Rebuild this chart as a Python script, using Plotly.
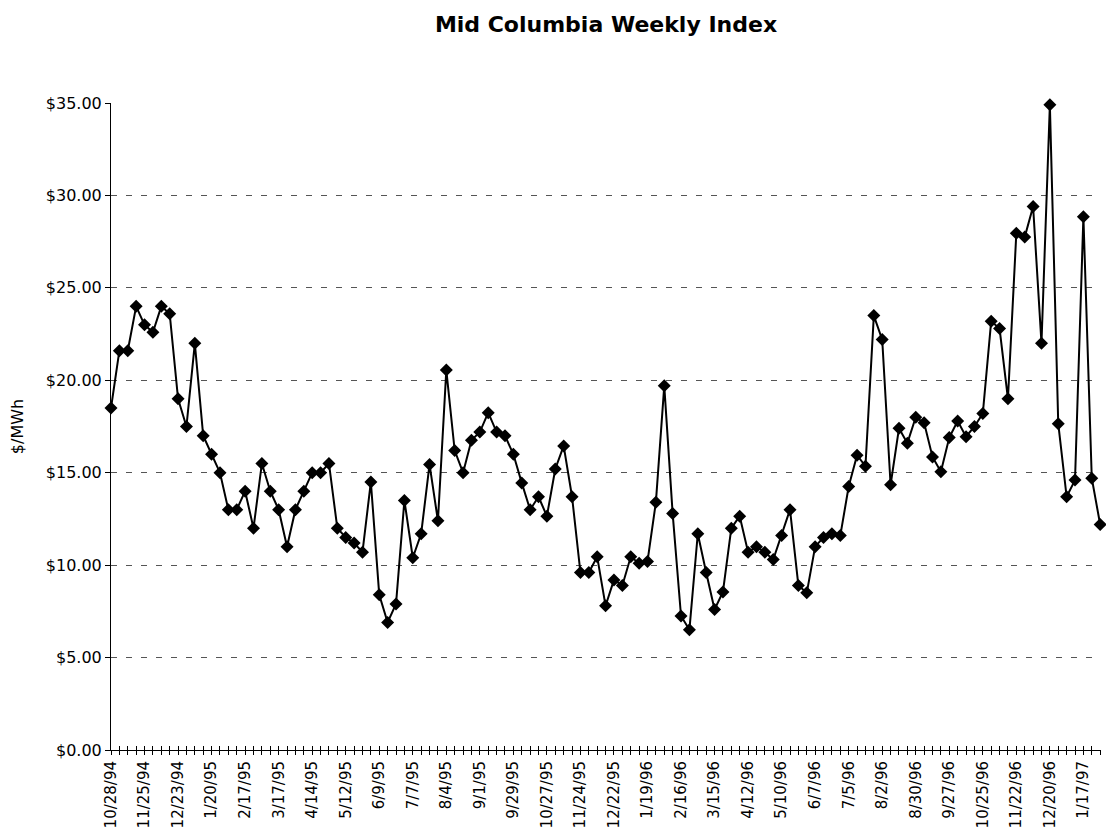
import pandas as pd
import plotly.graph_objects as go

# weekly index, first week ending 10/28/94
weeks = [f"{d.month}/{d.day}/{d.strftime('%y')}" for d in pd.date_range("1994-10-28", periods=119, freq="7D")]

price = [
    18.5, 21.6, 21.6, 24.0, 23.0, 22.6, 24.0, 23.6, 19.0, 17.5,
    22.0, 17.0, 16.0, 15.0, 13.0, 13.0, 14.0, 12.0, 15.5, 14.0,
    13.0, 11.0, 13.0, 14.0, 15.0, 15.0, 15.5, 12.0, 11.5, 11.2,
    10.7, 14.5, 8.4, 6.9, 7.9, 13.5, 10.4, 11.7, 15.45, 12.4,
    20.55, 16.2, 15.0, 16.75, 17.2, 18.25, 17.2, 17.0, 16.0, 14.45,
    13.0, 13.7, 12.65, 15.2, 16.45, 13.7, 9.6, 9.6, 10.45, 7.8,
    9.2, 8.9, 10.45, 10.1, 10.2, 13.4, 19.7, 12.8, 7.25, 6.5,
    11.7, 9.6, 7.6, 8.55, 12.0, 12.65, 10.7, 11.0, 10.7, 10.3,
    11.6, 13.0, 8.9, 8.5, 11.0, 11.5, 11.7, 11.6, 14.25, 15.95,
    15.35, 23.5, 22.2, 14.35, 17.4, 16.6, 18.0, 17.7, 15.85, 15.05,
    16.9, 17.8, 16.95, 17.5, 18.2, 23.2, 22.8, 19.0, 27.95, 27.75,
    29.4, 22.0, 34.9, 17.65, 13.7, 14.6, 28.85, 14.7, 12.2,
]

tick_labels = [
    "10/28/94", "11/25/94", "12/23/94", "1/20/95", "2/17/95", "3/17/95",
    "4/14/95", "5/12/95", "6/9/95", "7/7/95", "8/4/95", "9/1/95",
    "9/29/95", "10/27/95", "11/24/95", "12/22/95", "1/19/96", "2/16/96",
    "3/15/96", "4/12/96", "5/10/96", "6/7/96", "7/5/96", "8/2/96",
    "8/30/96", "9/27/96", "10/25/96", "11/22/96", "12/20/96", "1/17/97",
]

y_ticks = [0, 5, 10, 15, 20, 25, 30, 35]
grid_vals = [5, 10, 15, 20, 25, 30]

FONT = "DejaVu Sans, Arial, sans-serif"

n = len(weeks)
x_range = [0, n - 1 + 0.1]

fig = go.Figure()

fig.add_trace(go.Scatter(
    x=weeks,
    y=price,
    mode="lines+markers",
    line=dict(color="black", width=2),
    marker=dict(symbol="diamond", size=10, color="black"),
    cliponaxis=False,
    showlegend=False,
    hovertemplate="%{x}: $%{y:.2f}<extra></extra>",
))

# empty trace so the overlay axes (grid + inner ticks) get drawn
fig.add_trace(go.Scatter(x=[], y=[], xaxis="x2", yaxis="y2",
                         showlegend=False, hoverinfo="skip"))

# page body has an 8px margin, so the figure is sized to fit inside it
fig.update_layout(
    width=1106,
    height=828,
    paper_bgcolor="white",
    plot_bgcolor="white",
    margin=dict(l=103, r=13, t=95, b=86),
    font=dict(family=FONT, size=16, color="black"),
    title=dict(
        text="Mid Columbia Weekly Index",
        font=dict(family=FONT, size=22, color="black", weight="bold"),
        x=0.5, xref="paper", xanchor="center",
        y=1 - 16 / 828, yref="container", yanchor="middle",
    ),
    xaxis=dict(
        type="category",
        range=x_range,
        automargin=False,
        tickmode="array",
        tickvals=weeks,
        ticktext=[w if w in tick_labels else "" for w in weeks],
        tickangle=-90,
        tickfont=dict(size=15),
        ticks="outside",
        ticklen=4,
        tickcolor="black",
        showline=True,
        linecolor="black",
        linewidth=1,
        showgrid=False,
        zeroline=False,
    ),
    # inner half of the cross-shaped category ticks
    xaxis2=dict(
        overlaying="x",
        anchor="y2",
        side="bottom",
        range=x_range,
        automargin=False,
        dtick=1,
        tick0=0,
        ticks="inside",
        ticklen=4,
        tickcolor="black",
        showticklabels=False,
        showgrid=False,
        zeroline=False,
        showline=False,
    ),
    yaxis=dict(
        range=[0, 35],
        automargin=False,
        tickvals=y_ticks,
        ticktext=[f"${v:.2f}" for v in y_ticks],
        ticks="outside",
        ticklen=5,
        tickcolor="black",
        showline=True,
        linecolor="black",
        linewidth=1,
        showgrid=False,
        zeroline=False,
        title=dict(text="$/MWh", font=dict(size=16), standoff=20),
    ),
    # dashed gridlines (none at the top $35 line)
    yaxis2=dict(
        overlaying="y",
        anchor="x2",
        range=[0, 35],
        automargin=False,
        tickvals=grid_vals,
        showticklabels=False,
        ticks="",
        showgrid=True,
        gridcolor="#555555",
        griddash="6px,9px",
        gridwidth=1,
        zeroline=False,
        showline=False,
    ),
)

fig.write_html("out.html")
